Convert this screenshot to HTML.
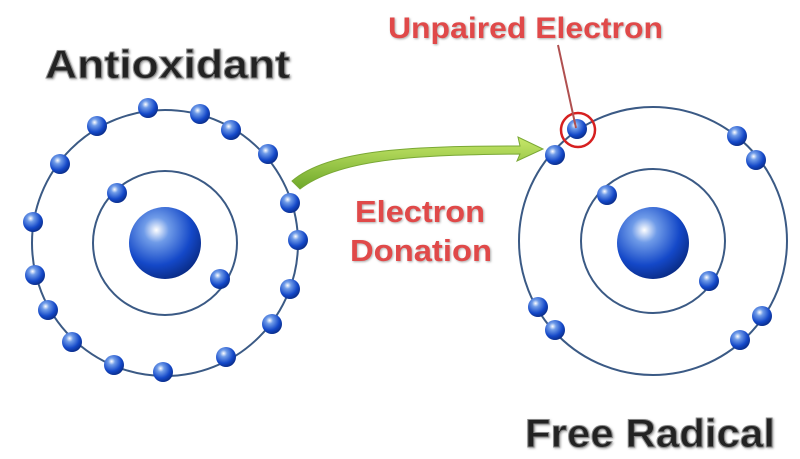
<!DOCTYPE html>
<html><head><style>
html,body{margin:0;padding:0;background:#fff;}
svg{display:block;}
</style></head><body>
<svg width="800" height="459" viewBox="0 0 800 459" xmlns="http://www.w3.org/2000/svg">
<defs>
<radialGradient id="e" cx="0.38" cy="0.32" r="0.7">
<stop offset="0" stop-color="#ffffff"/>
<stop offset="0.25" stop-color="#6f9be8"/>
<stop offset="0.7" stop-color="#1448c8"/>
<stop offset="1" stop-color="#0a2d8a"/>
</radialGradient>
<linearGradient id="g" x1="0" y1="0" x2="0" y2="1">
<stop offset="0" stop-color="#c8e86a"/>
<stop offset="1" stop-color="#6ea82a"/>
</linearGradient>
<filter id="sh"><feDropShadow dx="1" dy="1" stdDeviation="1" flood-color="#888" flood-opacity="0.7"/></filter>
</defs>
<g fill="none" stroke="#3b5a85" stroke-width="2">
<circle cx="165" cy="243" r="133"/>
<circle cx="165" cy="243" r="72"/>
<circle cx="653" cy="241" r="134"/>
<circle cx="653" cy="241" r="72"/>
</g>
<g fill="url(#e)">
<circle cx="165" cy="243" r="36"/>
<circle cx="653" cy="243" r="36"/>
<circle cx="148" cy="108" r="10"/><circle cx="200" cy="114" r="10"/><circle cx="231" cy="130" r="10"/>
<circle cx="268" cy="154" r="10"/><circle cx="290" cy="203" r="10"/><circle cx="298" cy="240" r="10"/>
<circle cx="290" cy="289" r="10"/><circle cx="272" cy="324" r="10"/><circle cx="226" cy="357" r="10"/>
<circle cx="163" cy="372" r="10"/><circle cx="114" cy="365" r="10"/><circle cx="72" cy="342" r="10"/>
<circle cx="48" cy="310" r="10"/><circle cx="35" cy="275" r="10"/><circle cx="33" cy="222" r="10"/>
<circle cx="60" cy="164" r="10"/><circle cx="97" cy="126" r="10"/>
<circle cx="117" cy="193" r="10"/><circle cx="220" cy="279" r="10"/>
<circle cx="577" cy="129" r="10"/><circle cx="555" cy="155" r="10"/><circle cx="737" cy="136" r="10"/>
<circle cx="756" cy="160" r="10"/><circle cx="538" cy="307" r="10"/><circle cx="555" cy="330" r="10"/>
<circle cx="740" cy="340" r="10"/><circle cx="762" cy="316" r="10"/><circle cx="607" cy="195" r="10"/>
<circle cx="709" cy="281" r="10"/>
</g>
<circle cx="578" cy="130" r="17" fill="none" stroke="#d62020" stroke-width="2.5"/>
<line x1="558" y1="45" x2="576" y2="128" stroke="#b05050" stroke-width="2"/>
<path d="M292 181 C330 148 420 146 520 146 L518 137 L543 149 L517 161 L520 154 C420 155 340 158 300 189 Z" fill="url(#g)" stroke="#7aa835" stroke-width="1"/>
<g font-family="Liberation Sans, sans-serif" font-weight="bold" filter="url(#sh)">
<text x="45" y="78" font-size="40" textLength="245" lengthAdjust="spacingAndGlyphs" fill="#222" stroke="#888" stroke-width="1">Antioxidant</text>
<text x="525" y="447" font-size="40" textLength="250" lengthAdjust="spacingAndGlyphs" fill="#222" stroke="#888" stroke-width="1">Free Radical</text>
<text x="388" y="38" font-size="30" textLength="275" lengthAdjust="spacingAndGlyphs" fill="#e04848">Unpaired Electron</text>
<text x="355" y="222" font-size="31" textLength="130" lengthAdjust="spacingAndGlyphs" fill="#e04848">Electron</text>
<text x="350" y="261" font-size="31" textLength="142" lengthAdjust="spacingAndGlyphs" fill="#e04848">Donation</text>
</g>
</svg>
</body></html>
